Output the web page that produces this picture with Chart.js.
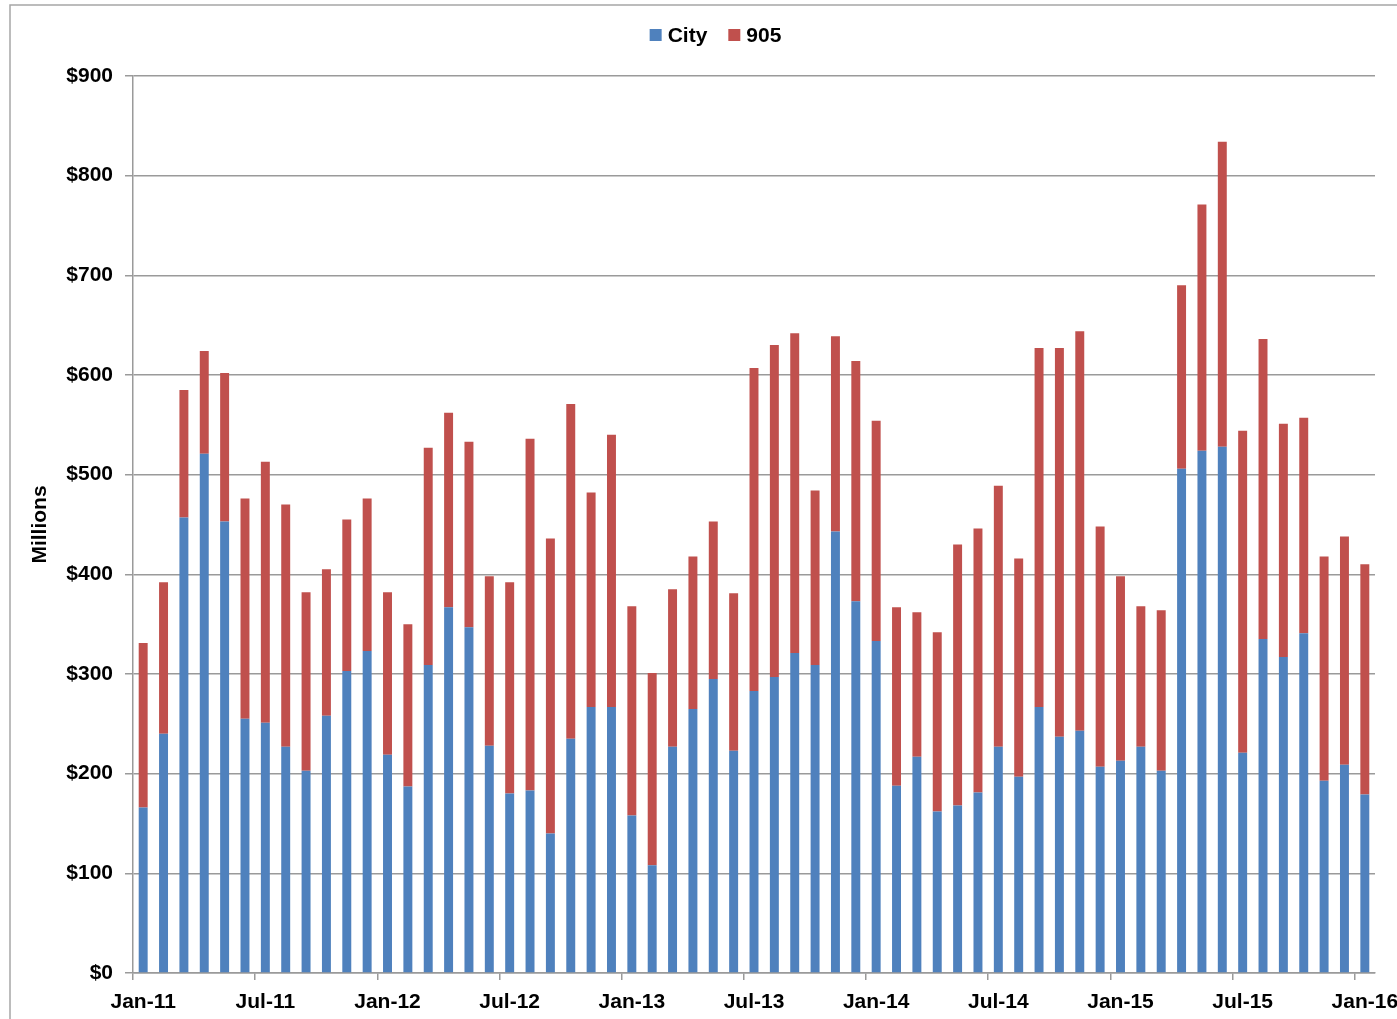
<!DOCTYPE html>
<html>
<head>
<meta charset="utf-8">
<script src="https://cdn.jsdelivr.net/npm/chart.js@4.4.1/dist/chart.umd.min.js"></script>
<style>
  html, body { margin: 0; padding: 0; background: #fff; overflow: hidden; }
  #wrap { position: relative; width: 1397px; height: 1019px; }
</style>
</head>
<body>
<div id="wrap"><canvas id="c"></canvas></div>
<script>
// Month labels, Jan-11 .. Jan-16
const months = [
  'Jan-11', 'Feb-11', 'Mar-11', 'Apr-11', 'May-11', 'Jun-11', 'Jul-11', 'Aug-11', 'Sep-11', 'Oct-11', 'Nov-11', 'Dec-11',
  'Jan-12', 'Feb-12', 'Mar-12', 'Apr-12', 'May-12', 'Jun-12', 'Jul-12', 'Aug-12', 'Sep-12', 'Oct-12', 'Nov-12', 'Dec-12',
  'Jan-13', 'Feb-13', 'Mar-13', 'Apr-13', 'May-13', 'Jun-13', 'Jul-13', 'Aug-13', 'Sep-13', 'Oct-13', 'Nov-13', 'Dec-13',
  'Jan-14', 'Feb-14', 'Mar-14', 'Apr-14', 'May-14', 'Jun-14', 'Jul-14', 'Aug-14', 'Sep-14', 'Oct-14', 'Nov-14', 'Dec-14',
  'Jan-15', 'Feb-15', 'Mar-15', 'Apr-15', 'May-15', 'Jun-15', 'Jul-15', 'Aug-15', 'Sep-15', 'Oct-15', 'Nov-15', 'Dec-15',
  'Jan-16',
];

// $ millions
const cityValues = [
  166, 240, 457, 521, 453, 255, 251, 227, 203, 258, 303, 323,
  219, 187, 309, 367, 347, 228, 180, 183, 140, 235, 267, 267,
  158, 108, 227, 265, 295, 223, 283, 297, 321, 309, 443, 373,
  333, 188, 217, 162, 168, 181, 227, 197, 267, 237, 243, 207,
  213, 227, 203, 506, 524, 528, 221, 335, 317, 341, 193, 209,
  179,
];

const values905 = [
  165, 152, 128, 103, 149, 221, 262, 243, 179, 147, 152, 153,
  163, 163, 218, 195, 186, 170, 212, 353, 296, 336, 215, 273,
  210, 193, 158, 153, 158, 158, 324, 333, 321, 175, 196, 241,
  221, 179, 145, 180, 262, 265, 262, 219, 360, 390, 401, 241,
  185, 141, 161, 184, 247, 306, 323, 301, 234, 216, 225, 229,
  231,
];

const yTicks = [0, 100, 200, 300, 400, 500, 600, 700, 800, 900];

const axisGrey = '#9a9a9a';
const fontFamily = '"Liberation Sans", Arial, sans-serif';
const font = { family: fontFamily, size: 21, weight: 'bold' };

// thin grey frame round the whole chart (runs off the right/bottom edge like the original)
const framePlugin = {
  id: 'frame',
  beforeDraw(chart) {
    const ctx = chart.ctx;
    ctx.save();
    ctx.strokeStyle = '#a6a6a6';
    ctx.lineWidth = 1.5;
    ctx.strokeRect(10, 5, 2000, 2000);
    ctx.restore();
  },
};

// Legend drawn by hand so the swatch/text spacing matches the Excel look
const legendPlugin = {
  id: 'xl-legend',
  afterDraw(chart) {
    const ctx = chart.ctx;
    const sets = chart.data.datasets;
    const box = 12, gapText = 6, gapItem = 21;
    const cy = 35;
    ctx.save();
    ctx.font = `bold ${font.size}px ${fontFamily}`;
    ctx.textBaseline = 'middle';
    ctx.textAlign = 'left';
    const widths = sets.map(d => ctx.measureText(d.label).width);
    const total = widths.reduce((s, w) => s + box + gapText + w, 0) + gapItem * (sets.length - 1);
    let x = 715.5 - total / 2;
    sets.forEach((d, i) => {
      ctx.fillStyle = d.backgroundColor;
      ctx.fillRect(x, cy - box / 2, box, box);
      ctx.fillStyle = '#000';
      ctx.fillText(d.label, x + box + gapText, cy + 1);
      x += box + gapText + widths[i] + gapItem;
    });
    ctx.restore();
  },
};

Chart.defaults.color = '#000';

new Chart(document.getElementById('c'), {
  type: 'bar',
  data: {
    labels: months,
    datasets: [
      {
        label: 'City',
        data: cityValues,
        backgroundColor: '#4F81BD',
        categoryPercentage: 1,
        barPercentage: 0.44,
      },
      {
        label: '905',
        data: values905,
        backgroundColor: '#C0504D',
        categoryPercentage: 1,
        barPercentage: 0.44,
      },
    ],
  },
  options: {
    responsive: true,
    maintainAspectRatio: false,
    animation: false,
    layout: { padding: { top: 6, left: 20, right: 22, bottom: 0 } },
    scales: {
      x: {
        stacked: true,
        grid: {
          offset: true,
          drawOnChartArea: false,
          tickLength: 7,
          lineWidth: 1.5,
          color: c => (c.index % 6 === 0 ? axisGrey : 'rgba(0,0,0,0)'),
        },
        border: { color: axisGrey, width: 1.5 },
        ticks: {
          autoSkip: false,
          maxRotation: 0,
          minRotation: 0,
          padding: 10,
          font,
          color: '#000',
          callback(v, i) { return i % 6 === 0 ? this.getLabelForValue(v) : ''; },
        },
        afterFit(s) { s.height = 46; s.paddingLeft = 0; s.paddingRight = 0; },
      },
      y: {
        stacked: true,
        min: 0,
        max: 900,
        afterBuildTicks(s) { s.ticks = yTicks.map(v => ({ value: v })); },
        grid: { color: axisGrey, lineWidth: 1.5, tickLength: 8 },
        border: { color: axisGrey, width: 1.5 },
        ticks: { font, color: '#000', padding: 12, callback: v => '$' + v },
        title: { display: true, text: 'Millions', font, color: '#000', padding: { top: 8, bottom: 0 } },
        afterFit(s) { s.width = 113; s.paddingTop = 76; },
      },
    },
    plugins: {
      legend: { display: false },
      tooltip: { enabled: false },
    },
  },
  plugins: [framePlugin, legendPlugin],
});
</script>
</body>
</html>
